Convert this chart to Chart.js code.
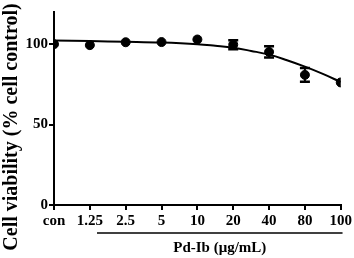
<!DOCTYPE html>
<html>
<head>
<meta charset="utf-8">
<script src="https://cdn.jsdelivr.net/npm/chart.js@4.4.0/dist/chart.umd.min.js"></script>
<style>
  html, body { margin: 0; padding: 0; background: #fff; }
  #wrap { width: 354px; height: 258px; }
</style>
</head>
<body>
<div id="wrap"><canvas id="myChart"></canvas></div>
<script>
const categories = ['con', '1.25', '2.5', '5', '10', '20', '40', '80', '100'];
const viability = [100, 99.4, 101.2, 101.3, 102.9, 99.7, 95.2, 80.9, 76.2];
const errors = [0, 0, 0, 0, 0, 2.8, 3.5, 4.3, 0];
const fitX = [0, 1, 2, 3, 4, 4.5, 5, 5.5, 6, 6.5, 7, 7.5, 8];
const fitY = [102.3, 101.9, 101.5, 101, 100, 99, 97.8, 95.8, 93.5, 90, 86, 81.5, 76.5];
const yTicks = [0, 50, 100];
const xTitle = 'Pd-Ib (μg/mL)';
const yTitle = 'Cell viability (% cell control)';

const serif = "'Liberation Serif', 'Times New Roman', serif";

const errorBars = {
    id: 'errorBars',
    afterDatasetsDraw(chart) {
        const ctx = chart.ctx;
        const xs = chart.scales.x, ys = chart.scales.y;
        ctx.save();
        ctx.strokeStyle = '#000';
        ctx.lineWidth = 2;
        viability.forEach((v, i) => {
            if (!errors[i]) return;
            const px = xs.getPixelForValue(i);
            const top = ys.getPixelForValue(v + errors[i]);
            const bot = ys.getPixelForValue(v - errors[i]);
            ctx.beginPath();
            ctx.moveTo(px, top); ctx.lineTo(px, bot);
            ctx.stroke();
            ctx.lineWidth = 2.5;
            ctx.beginPath();
            ctx.moveTo(px - 5, top); ctx.lineTo(px + 5, top);
            ctx.moveTo(px - 5, bot); ctx.lineTo(px + 5, bot);
            ctx.stroke();
            ctx.lineWidth = 2;
        });
        ctx.restore();
    }
};

// axis titles drawn by hand so they sit where the original has them
const axisTitles = {
    id: 'axisTitles',
    afterDraw(chart) {
        const ctx = chart.ctx;
        const xs = chart.scales.x;
        const x1 = xs.getPixelForValue(1.2);
        const x2 = xs.getPixelForValue(8.05);
        ctx.save();
        ctx.strokeStyle = '#000';
        ctx.lineWidth = 1.5;
        ctx.beginPath();
        ctx.moveTo(x1, 233); ctx.lineTo(x2, 233);
        ctx.stroke();
        ctx.fillStyle = '#000';
        ctx.font = 'bold 15px ' + serif;
        ctx.textAlign = 'center';
        ctx.textBaseline = 'middle';
        ctx.fillText(xTitle, (x1 + x2) / 2, 248);

        ctx.translate(12, 127);
        ctx.rotate(-Math.PI / 2);
        ctx.font = 'bold 20px ' + serif;
        ctx.fillText(yTitle, 0, 0);
        ctx.restore();
    }
};

new Chart(document.getElementById('myChart'), {
    type: 'scatter',
    data: {
        datasets: [{
            type: 'line',
            data: fitX.map((x, i) => ({ x: x, y: fitY[i] })),
            borderColor: '#000',
            borderWidth: 2,
            pointRadius: 0,
            tension: 0.4,
            fill: false
        }, {
            data: viability.map((v, i) => ({ x: i, y: v })),
            backgroundColor: '#000',
            borderColor: '#000',
            pointRadius: 4.5
        }]
    },
    options: {
        responsive: true,
        maintainAspectRatio: false,
        animation: false,
        layout: { padding: { top: 12, right: 12, left: 0, bottom: 0 } },
        plugins: { legend: { display: false }, tooltip: { enabled: false } },
        scales: {
            x: {
                type: 'linear',
                min: 0,
                max: 8,
                afterBuildTicks: (s) => { s.ticks = categories.map((c, i) => ({ value: i })); },
                afterFit: (s) => { s.height = 53; },
                ticks: {
                    color: '#000',
                    font: { family: serif, size: 15, weight: 'bold' },
                    callback: (v) => categories[v],
                    maxRotation: 0,
                    autoSkip: false,
                    padding: 2
                },
                grid: { drawOnChartArea: false, color: '#000', lineWidth: 2, tickLength: 5 },
                border: { color: '#000', width: 2 }
            },
            y: {
                min: 0,
                max: 120,
                afterBuildTicks: (s) => { s.ticks = yTicks.map(v => ({ value: v })); },
                afterFit: (s) => { s.width = 54; },
                ticks: {
                    color: '#000',
                    font: { family: serif, size: 15, weight: 'bold' },
                    padding: 1
                },
                grid: { drawOnChartArea: false, color: '#000', lineWidth: 2, tickLength: 5 },
                border: { color: '#000', width: 2 }
            }
        }
    },
    plugins: [errorBars, axisTitles]
});
</script>
</body>
</html>
